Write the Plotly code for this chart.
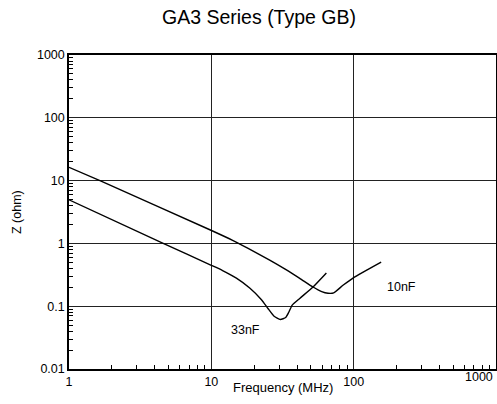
import plotly.graph_objects as go

# 10nF curve (upper)
f_10nF = [1, 1.65, 9.76, 14.0, 18.0, 25.7, 33.0, 41.8, 51.8, 59.6, 66.0, 72.4, 84.1, 100, 156]
z_10nF = [16.3, 10, 1.65, 1.13, 0.84, 0.543, 0.39, 0.278, 0.202, 0.171, 0.161, 0.163, 0.215, 0.286, 0.505]

# 33nF curve (lower)
f_33nF = [1, 4.59, 10.0, 12.0, 15.0, 18.6, 22.5, 25.0, 27.6, 30.5, 33.3, 35.0, 37.0, 41.8, 51.8, 64.3]
z_33nF = [4.94, 1.0, 0.448, 0.37, 0.28, 0.195, 0.127, 0.092, 0.069, 0.0615, 0.066, 0.08, 0.104, 0.133, 0.202, 0.338]

x_tickvals = [1, 10, 100]
x_ticktext = ["1", "10", "100"]
x_minor = [2, 3, 4, 5, 6, 7, 8, 9, 20, 30, 40, 50, 60, 70, 80, 90, 200, 300, 400, 500, 600, 700, 800, 900]
y_tickvals = [0.01, 0.1, 1, 10, 100, 1000]
y_ticktext = ["0.01", "0.1", "1", "10", "100", "1000"]
y_minor = [m * d for d in [0.01, 0.1, 1, 10, 100] for m in [2, 3, 4, 5, 6, 7, 8, 9]]

FONT = "Liberation Sans, Arial, sans-serif"

fig = go.Figure()
fig.add_trace(go.Scatter(x=f_10nF, y=z_10nF, mode="lines",
                         line=dict(color="black", width=1.4, shape="spline", smoothing=0.5),
                         showlegend=False, hoverinfo="skip"))
fig.add_trace(go.Scatter(x=f_33nF, y=z_33nF, mode="lines",
                         line=dict(color="black", width=1.4, shape="spline", smoothing=0.5),
                         showlegend=False, hoverinfo="skip"))

fig.update_layout(
    width=497, height=404,
    margin=dict(l=69, r=1, t=55, b=35, autoexpand=False),
    paper_bgcolor="white", plot_bgcolor="white",
    font=dict(family=FONT, size=12, color="black"),
    xaxis=dict(type="log", range=[0, 3], tickvals=x_tickvals, ticktext=x_ticktext,
               ticks="", showgrid=True, gridcolor="#222", gridwidth=1,
               showline=True, linecolor="black", linewidth=1.5, mirror=True,
               zeroline=False, tickfont=dict(size=12.5),
               minor=dict(tickvals=x_minor, ticks="inside", ticklen=4, tickcolor="black",
                          tickwidth=1, showgrid=False)),
    yaxis=dict(type="log", range=[-2, 3], tickvals=y_tickvals, ticktext=y_ticktext,
               ticks="", showgrid=True, gridcolor="#222", gridwidth=1,
               showline=True, linecolor="black", linewidth=1.5, mirror=True,
               zeroline=False, tickfont=dict(size=12.5),
               minor=dict(tickvals=y_minor, ticks="inside", ticklen=4, tickcolor="black",
                          tickwidth=1, showgrid=False)),
    annotations=[
        dict(text="GA3 Series (Type GB)", xref="paper", yref="paper", x=0.444,
             y=(369 - 16.5) / 314.3,
             xanchor="center", yanchor="middle", showarrow=False, font=dict(size=19.5)),
        dict(text="Frequency (MHz)", xref="paper", yref="paper", x=0.5, y=-0.0605,
             xanchor="center", yanchor="middle", showarrow=False, font=dict(size=13)),
        dict(text="Z (ohm)", xref="paper", yref="paper", x=-0.1218, y=0.5, textangle=-90,
             xanchor="center", yanchor="middle", showarrow=False, font=dict(size=12.5)),
        dict(text="1000", xref="paper", yref="paper", x=0.997, y=-0.025,
             xanchor="right", yanchor="middle", showarrow=False, font=dict(size=12.5)),
        dict(text="10nF", xref="x", yref="y", x=2.333, y=-0.698,
             xanchor="center", yanchor="middle", showarrow=False, font=dict(size=12.5)),
        dict(text="33nF", xref="x", yref="y", x=1.237, y=-1.381,
             xanchor="center", yanchor="middle", showarrow=False, font=dict(size=12.5)),
    ],
)

fig.write_html("out.html", post_script="document.body.style.margin='0';",
               config={"displayModeBar": False})
